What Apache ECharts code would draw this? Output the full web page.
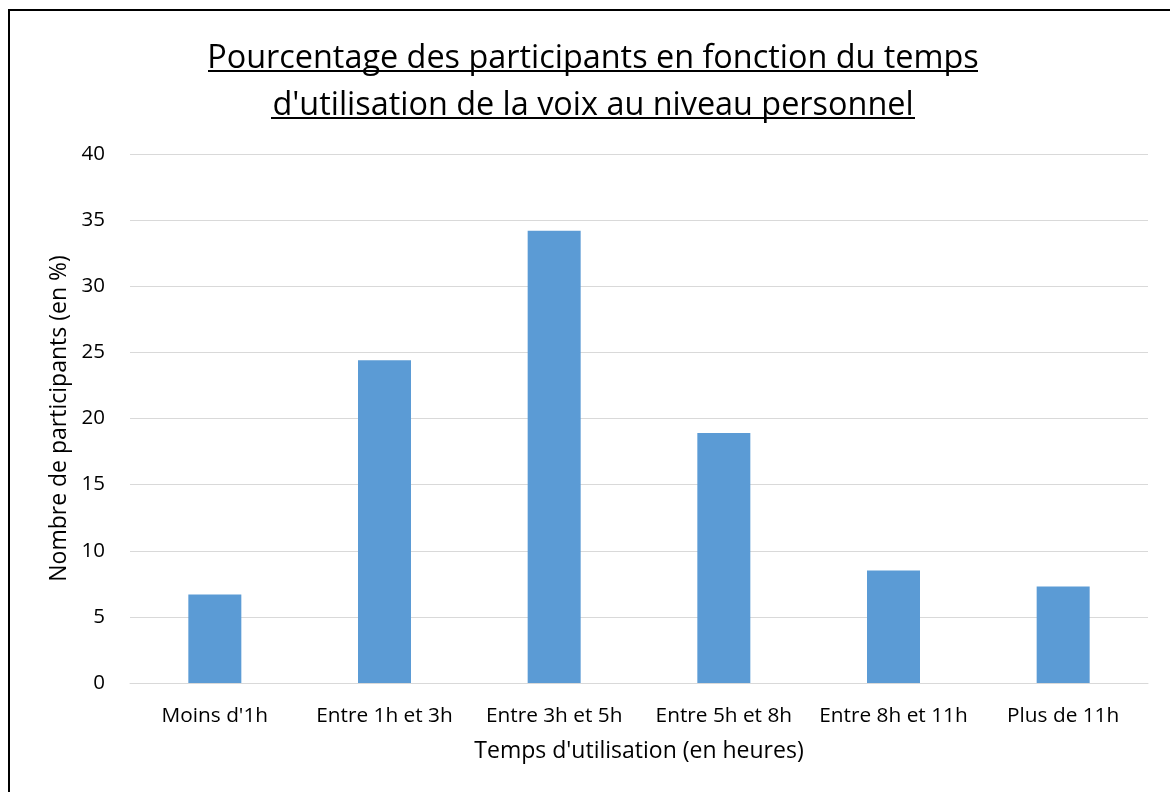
<!DOCTYPE html>
<html>
<head>
<meta charset="utf-8">
<script src="https://cdn.jsdelivr.net/npm/echarts@6/dist/echarts.min.js"></script>
<style>
  html, body { margin: 0; padding: 0; background: #fff; }
  #chart { width: 1170px; height: 792px; }
</style>
</head>
<body>
<div id="chart"></div>
<script>
// catégories et valeurs
var categories = ["Moins d'1h", 'Entre 1h et 3h', 'Entre 3h et 5h', 'Entre 5h et 8h', 'Entre 8h et 11h', 'Plus de 11h'];
var percentages = [6.7, 24.4, 34.2, 18.9, 8.5, 7.3];
var yTicks = [0, 5, 10, 15, 20, 25, 30, 35, 40];

var font = 'Open Sans';

var chart = echarts.init(document.getElementById('chart'));
chart.setOption({
  animation: false,
  backgroundColor: '#fff',
  title: {
    text: "Pourcentage des participants en fonction du temps\nd'utilisation de la voix au niveau personnel",
    left: 593,
    textAlign: 'center',
    padding: 0,
    top: 35,
    textStyle: {
      fontFamily: font,
      fontWeight: 'normal',
      fontSize: 32.4,
      lineHeight: 47,
      color: '#000'
    }
  },
  grid: {
    left: 130,
    right: 22,
    top: 154,
    bottom: 109
  },
  xAxis: {
    type: 'category',
    data: categories,
    name: "Temps d'utilisation (en heures)",
    nameLocation: 'middle',
    nameGap: 57,
    nameTextStyle: { fontFamily: font, fontSize: 23, color: '#000' },
    axisLine: { lineStyle: { color: '#d9d9d9', width: 1 } },
    axisTick: { show: false },
    axisLabel: { fontFamily: font, fontSize: 20.8, color: '#000', margin: 23, interval: 0 }
  },
  yAxis: {
    type: 'value',
    min: yTicks[0],
    max: yTicks[yTicks.length - 1],
    interval: 5,
    name: 'Nombre de participants (en %)',
    nameLocation: 'middle',
    nameGap: 58,
    nameTextStyle: { fontFamily: font, fontSize: 23, color: '#000' },
    axisLine: { show: false },
    axisTick: { show: false },
    axisLabel: { fontFamily: font, fontSize: 20.5, color: '#000', margin: 25 },
    splitLine: { lineStyle: { color: '#d9d9d9', width: 1 } }
  },
  series: [{
    type: 'bar',
    data: percentages,
    barWidth: 53,
    itemStyle: { color: '#5b9bd5' }
  }],
  graphic: [
    // cadre
    { type: 'rect', shape: { x: 9, y: 10, width: 1200, height: 820 },
      style: { fill: null, stroke: '#000', lineWidth: 2 }, silent: true },
    // soulignement du titre
    { type: 'line', shape: { x1: 208, y1: 71, x2: 978, y2: 71 },
      style: { stroke: '#000', lineWidth: 2 }, silent: true },
    { type: 'line', shape: { x1: 271, y1: 118, x2: 915, y2: 118 },
      style: { stroke: '#000', lineWidth: 2 }, silent: true }
  ]
});
</script>
</body>
</html>
